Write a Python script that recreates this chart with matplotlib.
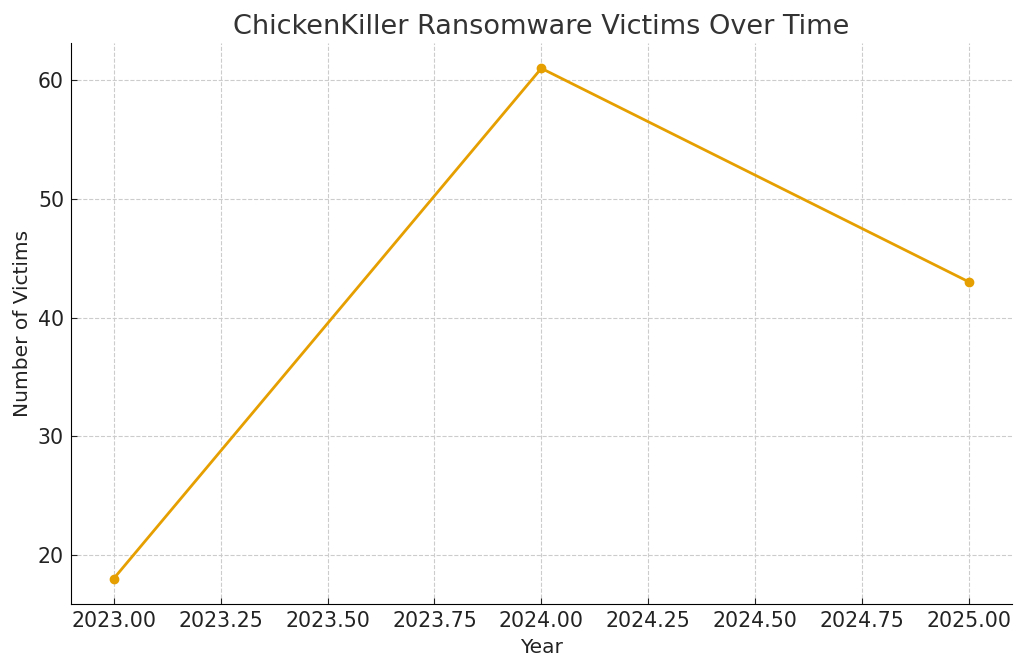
import matplotlib
matplotlib.use('Agg')
import matplotlib.pyplot as plt

# data
years = [2023, 2024, 2025]
victims = [18, 61, 43]

fig = plt.figure(figsize=(10.24, 6.69), dpi=100)
ax = fig.add_axes([0.0693, 0.097, 0.9187, 0.839])

ax.plot(years, victims, marker='o', color='#E69F00', linewidth=2, markersize=6)

ax.set_title('ChickenKiller Ransomware Victims Over Time', fontsize=19.5, color='#333333')
ax.set_xlabel('Year', fontsize=14.5, color='#222222', labelpad=5)
ax.set_ylabel('Number of Victims', fontsize=14.5, color='#222222')
ax.tick_params(labelsize=14.8, colors='#222222', direction='in', length=4, pad=5)
ax.xaxis.set_major_formatter(matplotlib.ticker.FormatStrFormatter('%.2f'))

ax.grid(True, linestyle='--', color='#cccccc', linewidth=0.8)
ax.spines['top'].set_visible(False)
ax.spines['right'].set_visible(False)

plt.savefig('out.png', dpi=100)
